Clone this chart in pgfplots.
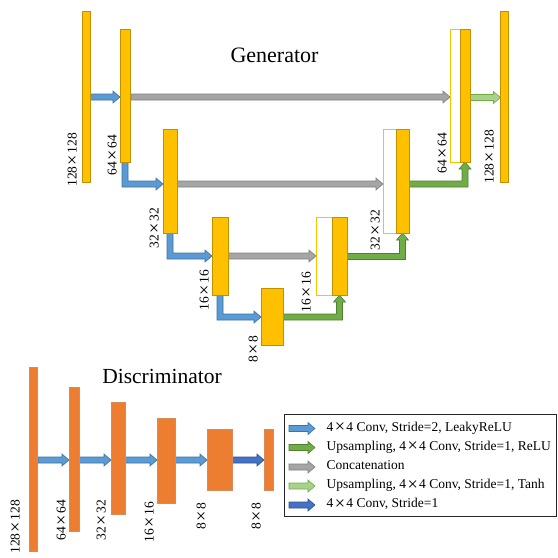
\documentclass[border=0pt]{standalone}
\usepackage{pgfplots}
\pgfplotsset{compat=1.18}
\usepackage{graphicx}
\usepackage{fontspec}
\setmainfont{Liberation Serif}

\definecolor{gold}{HTML}{FFC000}
\definecolor{goldd}{HTML}{BF9000}
\definecolor{orng}{HTML}{ED7D31}
\definecolor{orngd}{HTML}{C55A11}
\definecolor{cblue}{HTML}{5B9BD5}
\definecolor{cblued}{HTML}{41719C}
\definecolor{cgreen}{HTML}{70AD47}
\definecolor{cgreend}{HTML}{507E32}
\definecolor{cgrey}{HTML}{A5A5A5}
\definecolor{cgreyd}{HTML}{7F7F7F}
\definecolor{clgreen}{HTML}{A9D18E}
\definecolor{cdblue}{HTML}{4472C4}
\definecolor{cdblued}{HTML}{2F528F}

\pgfplotsset{
  gbar/.style={fill=gold,draw=goldd,line width=0.7pt},
  gwhite/.style={fill=white,draw=gold,line width=0.6pt},
  dbar/.style={fill=orng,draw=orngd!70,line width=0.6pt},
  ablue/.style={fill=cblue,draw=cblued,line width=0.6pt},
  agreen/.style={fill=cgreen,draw=cgreend,line width=0.6pt},
  agrey/.style={fill=cgrey,draw=cgreyd,line width=0.6pt},
  algreen/.style={fill=clgreen,draw=cgreen,line width=0.6pt},
  adblue/.style={fill=cdblue,draw=cdblued,line width=0.6pt},
}

\newcommand\X{\hspace{0.1em}\raisebox{-0.11em}{\scalebox{1.35}{×}}\hspace{0.1em}}
\newcommand\labfont{\fontsize{13.5}{16}\selectfont}

% block: x1 x2 y1 y2 style
\newcommand{\blk}[5]{\addplot[#5] coordinates {(#1,#3) (#2,#3) (#2,#4) (#1,#4)} -- cycle;}

% straight arrow to the right: x1 x2 y style
\newcommand{\harrow}[4]{%
  \pgfmathsetmacro\ya{#3-3}\pgfmathsetmacro\yb{#3+3}%
  \pgfmathsetmacro\yc{#3-6}\pgfmathsetmacro\yd{#3+6}%
  \pgfmathsetmacro\xh{#2-7}%
  \addplot[#4] coordinates {(#1,\ya) (\xh,\ya) (\xh,\yc) (#2,#3) (\xh,\yd) (\xh,\yb) (#1,\yb)} -- cycle;}

% down then right: cx ystart ycorner xtip style
\newcommand{\dnarrow}[5]{%
  \pgfmathsetmacro\xa{#1-3}\pgfmathsetmacro\xb{#1+3}%
  \pgfmathsetmacro\ya{#3-3}\pgfmathsetmacro\yb{#3+3}%
  \pgfmathsetmacro\yc{#3-6}\pgfmathsetmacro\yd{#3+6}%
  \pgfmathsetmacro\xh{#4-7}%
  \addplot[#5] coordinates {(\xa,#2) (\xa,\yb) (\xh,\yb) (\xh,\yd) (#4,#3) (\xh,\yc) (\xh,\ya) (\xb,\ya) (\xb,#2)} -- cycle;}

% right then up: xstart ycorner cx ytip style
\newcommand{\uparr}[5]{%
  \pgfmathsetmacro\xa{#3-3}\pgfmathsetmacro\xb{#3+3}%
  \pgfmathsetmacro\xc{#3-6}\pgfmathsetmacro\xd{#3+6}%
  \pgfmathsetmacro\ya{#2-3}\pgfmathsetmacro\yb{#2+3}%
  \pgfmathsetmacro\yh{#4+7}%
  \addplot[#5] coordinates {(#1,\ya) (\xa,\ya) (\xa,\yh) (\xc,\yh) (#3,#4) (\xd,\yh) (\xb,\yh) (\xb,\yb) (#1,\yb)} -- cycle;}

\newcommand{\lab}[3]{\node[rotate=90,anchor=east,inner sep=0pt,font=\labfont] at (axis cs:#1,#2) {#3};}
\newcommand{\leg}[2]{\node[anchor=west,inner sep=0pt,font=\labfont,text height=1.6ex,text depth=0.4ex] at (axis cs:326.5,#1) {#2};}

\begin{document}
\begin{tikzpicture}
\begin{axis}[width=558pt,height=558pt,scale only axis,
  xmin=0,xmax=558,ymin=0,ymax=558,y dir=reverse,
  hide axis,clip=false]

% ---- generator arrows
\harrow{90}{120}{97}{ablue}
\dnarrow{125}{162}{184}{163}{ablue}
\dnarrow{170}{233}{256}{212}{ablue}
\dnarrow{220}{295}{317}{261}{ablue}
\harrow{131}{450}{97}{agrey}
\harrow{177}{383}{184}{agrey}
\harrow{228}{316}{256}{agrey}
\uparr{283}{317}{339.5}{295}{agreen}
\uparr{347}{256.5}{402.5}{233}{agreen}
\uparr{409}{184}{465}{162}{agreen}
\harrow{470}{500.5}{97.5}{algreen}

% ---- generator blocks
\blk{82}{90}{11}{182}{gbar}
\blk{120}{130}{29}{162}{gbar}
\blk{163.5}{177}{129}{233}{gbar}
\blk{212}{228}{217}{295}{gbar}
\blk{261}{283}{288}{345}{gbar}
\blk{316}{332}{217}{295}{gwhite}
\blk{332}{347}{217}{295}{gbar}
\blk{383.5}{396}{129}{233}{gwhite}
\blk{396}{409}{129}{233}{gbar}
\blk{450}{460}{29}{162}{gwhite}
\blk{460}{470}{29}{162}{gbar}
\blk{500.5}{508.5}{11}{182}{gbar}

% ---- discriminator
\harrow{38}{69}{460}{ablue}
\harrow{79}{111}{460}{ablue}
\harrow{125}{157}{460}{ablue}
\harrow{175}{207}{460}{ablue}
\harrow{232}{264}{460}{adblue}
\blk{29.5}{37.5}{367}{551}{dbar}
\blk{69}{79}{387}{531}{dbar}
\blk{111}{125}{402}{514}{dbar}
\blk{157}{175}{418}{503}{dbar}
\blk{207}{232}{429}{490}{dbar}
\blk{264}{273}{429}{490}{dbar}

% ---- legend
\blk{284}{556}{414}{516}{fill=white,draw=black!85,line width=0.8pt}
\harrow{289}{315}{428.5}{ablue}
\harrow{289}{315}{447.5}{agreen}
\harrow{289}{315}{467}{agrey}
\harrow{289}{315}{486}{algreen}
\harrow{289}{315}{505}{adblue}
\leg{428.5}{4\X4 Conv, Stride=2, LeakyReLU}
\leg{447.5}{Upsampling, 4\X4 Conv, Stride=1, ReLU}
\leg{467}{Concatenation}
\leg{486}{Upsampling, 4\X4 Conv, Stride=1, Tanh}
\leg{505}{4\X4 Conv, Stride=1}

% ---- labels
\node[anchor=base,inner sep=0pt,font=\fontsize{22}{26}\selectfont] at (axis cs:274.5,62) {Generator};
\node[anchor=base,inner sep=0pt,font=\fontsize{21.5}{26}\selectfont] at (axis cs:162,383) {Discriminator};
\lab{73}{133}{128\X128}
\lab{113}{135}{64\X64}
\lab{155}{208}{32\X32}
\lab{205}{270}{16\X16}
\lab{254}{336}{8\X8}
\lab{307}{272}{16\X16}
\lab{376}{210}{32\X32}
\lab{443}{133}{64\X64}
\lab{490}{130}{128\X128}
\lab{16}{500}{128\X128}
\lab{62}{500}{64\X64}
\lab{102}{500}{32\X32}
\lab{150}{502}{16\X16}
\lab{202}{503}{8\X8}
\lab{257}{503}{8\X8}
\end{axis}
\pgfresetboundingbox
\useasboundingbox (current axis.south west) rectangle (current axis.north east);
\end{tikzpicture}
\end{document}
